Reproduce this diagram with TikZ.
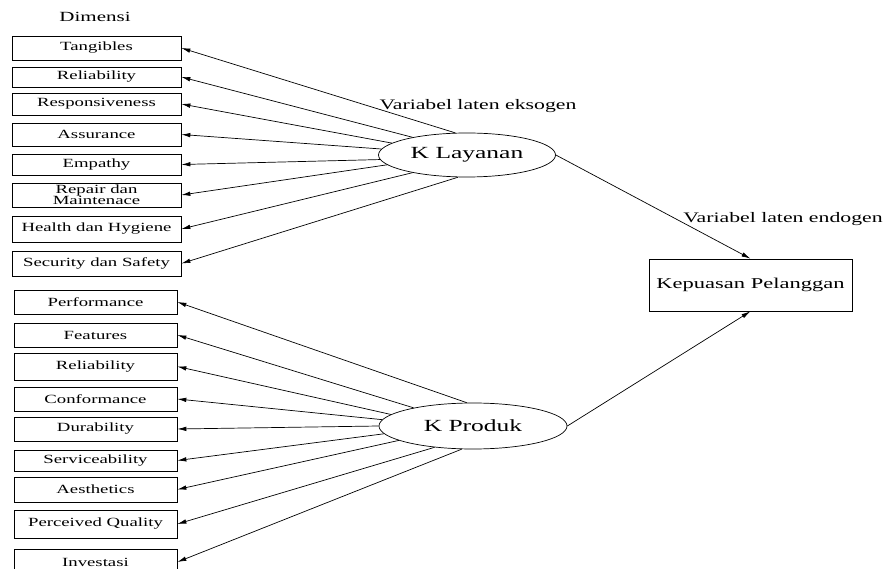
\documentclass[tikz,border=0pt]{standalone}
\usepackage{fontspec}
\setmainfont[FakeStretch=1.5]{Liberation Serif}
\usepackage{tikz}
\usetikzlibrary{shapes.geometric,arrows.meta}
\newcommand{\indik}[2]{\draw[-{Latex[length=9pt,width=4.5pt]}] (#1) -- (#2)}

\begin{document}
\begin{tikzpicture}[x=1pt, y=-1pt, line width=0.7pt,
    dim/.style={draw, inner sep=0pt, align=center, font=\fontsize{12.5}{12}\selectfont},
    dimA/.style={dim, minimum width=169pt},
    dimB/.style={dim, minimum width=163pt},
    laten/.style={draw, ellipse, inner sep=0pt, font=\fontsize{17}{17}\selectfont},
    ket/.style={font=\fontsize{14.5}{14.5}\selectfont}]
                    \useasboundingbox (0,0) rectangle (887,569);

                    \node[ket, font=\fontsize{14}{14}\selectfont] (dim) at (95,17) {Dimensi};

                    % dimensi kualitas layanan
                    \node[dimA, minimum height=24pt] (t1) at (96.5,48) {Tangibles};
                    \node[dimA, minimum height=20pt] (t2) at (96.5,77) {Reliability};
                    \node[dimA, minimum height=22pt] (t3) at (96.5,104) {Responsiveness};
                    \node[dimA, minimum height=23pt] (t4) at (96.5,134.5) {Assurance};
                    \node[dimA, minimum height=21pt] (t5) at (96.5,164.5) {Empathy};
                    \node[dimA, minimum height=24pt, font=\fontsize{12.5}{11}\selectfont] (t6) at (96.5,195) {Repair dan\\Maintenace};
                    \node[dimA, minimum height=26pt] (t7) at (96.5,229) {Health dan Hygiene};
                    \node[dimA, minimum height=25pt] (t8) at (96.5,263.5) {Security dan Safety};

                    % dimensi kualitas produk
                    \node[dimB, minimum height=24pt] (p1) at (95.5,302) {Performance};
                    \node[dimB, minimum height=24pt] (p2) at (95.5,335) {Features};
                    \node[dimB, minimum height=27pt] (p3) at (95.5,366.5) {Reliability};
                    \node[dimB, minimum height=24pt] (p4) at (95.5,399) {Conformance};
                    \node[dimB, minimum height=24pt] (p5) at (95.5,429) {Durability};
                    \node[dimB, minimum height=21pt] (p6) at (95.5,460.5) {Serviceability};
                    \node[dimB, minimum height=25pt] (p7) at (95.5,489.5) {Aesthetics};
                    \node[dimB, minimum height=28pt] (p8) at (95.5,524) {Perceived Quality};
                    \node[dimB, minimum height=26pt] (p9) at (95.5,562) {Investasi};

                    \node[laten, minimum width=177pt, minimum height=44pt] (lay) at (467,155) {K Layanan};
                    \node[laten, minimum width=188pt, minimum height=46pt] (prod) at (473,426) {K Produk};
                    \node[draw, minimum width=203pt, minimum height=52pt, inner sep=0pt,
                          font=\fontsize{15}{15}\selectfont] (kep) at (750.5,285) {Kepuasan Pelanggan};

                    \node[ket] (eks) at (478,106) {Variabel laten eksogen};
                    \node[ket] (endo) at (783,219) {Variabel laten endogen};

                    \indik{lay.118}{t1.east};
                    \indik{lay.162}{t2.east};
                    \indik{lay.171}{t3.east};
                    \indik{lay.176}{t4.east};
                    \indik{lay.183}{t5.east};
                    \indik{lay.187}{t6.east};
                    \indik{lay.198}{t7.east};
                    \indik{lay.248}{t8.east};

                    \indik{prod.105}{p1.east};
                    \indik{prod.163}{p2.east};
                    \indik{prod.172}{p3.east};
                    \indik{prod.176}{p4.east};
                    \indik{prod.180}{p5.east};
                    \indik{prod.185}{p6.east};
                    \indik{prod.191}{p7.east};
                    \indik{prod.209}{p8.east};
                    \indik{prod.244}{p9.east};

                    \indik{lay.east}{kep.north};
                    \indik{prod.east}{kep.south};
                \end{tikzpicture}
\end{document}
